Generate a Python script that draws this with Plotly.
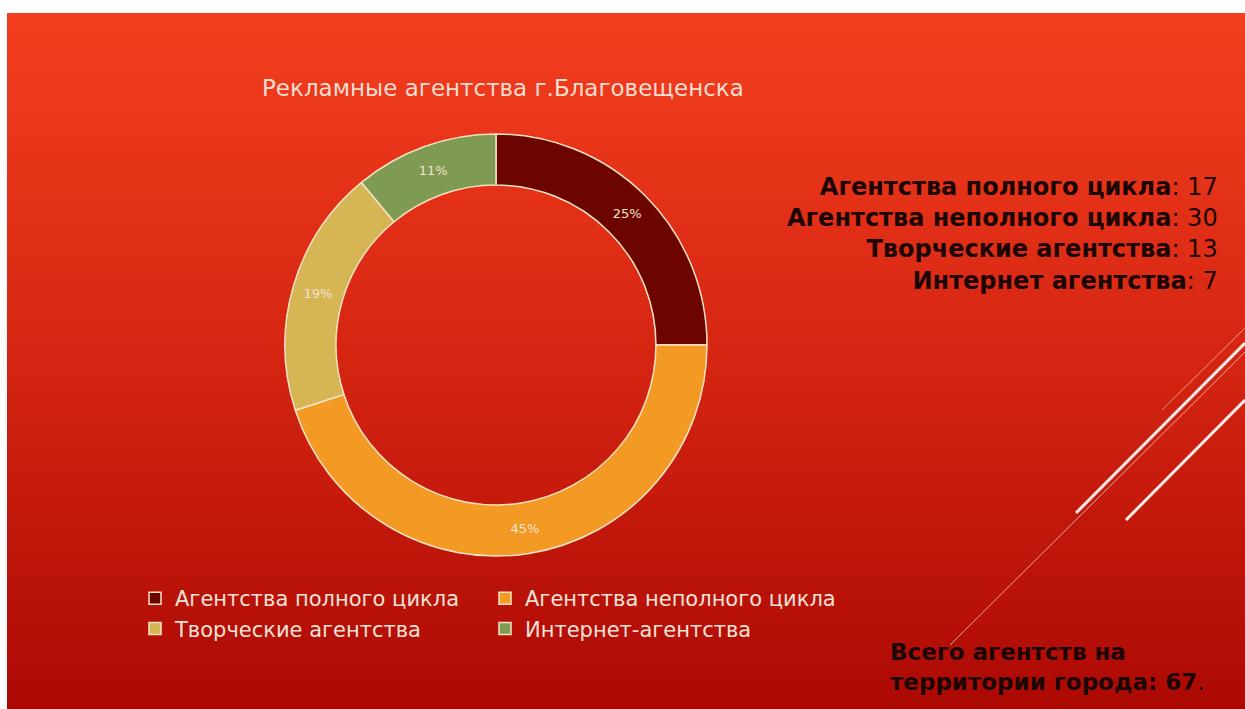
import plotly.graph_objects as go

# Рекламные агентства г. Благовещенска
categories = ["Агентства полного цикла", "Агентства неполного цикла",
              "Творческие агентства", "Интернет-агентства"]
share_pct = [25, 45, 19, 11]          # доли на диаграмме, %
summary_labels = ["Агентства полного цикла", "Агентства неполного цикла",
                  "Творческие агентства", "Интернет агентства"]
summary_counts = [17, 30, 13, 7]
total_count = 67

slice_colors = ["#6c0500", "#f29a24", "#d6b654", "#7f9a52"]

W, H = 1245, 709
PLOT_W = 845          # plot area width (right margin holds the text block)


def px(x):
    return x / PLOT_W


def py(y):
    return 1 - y / H


fig = go.Figure()

fig.add_trace(go.Pie(
    labels=categories,
    values=share_pct,
    hole=0.758,
    sort=False,
    direction="clockwise",
    rotation=0,
    marker=dict(colors=slice_colors, line=dict(color="#f4e4c4", width=1.5)),
    texttemplate="%{value}%",
    textposition="inside",
    insidetextorientation="horizontal",
    textfont=dict(family="DejaVu Sans", size=13, color="#f3e2d2"),
    domain=dict(x=[px(285), px(707)], y=[py(556), py(134)]),
    hoverinfo="label+value",
))

# background gradient of the slide (horizontal bands)
stops = [(13, (244, 63, 30)), (360, (213, 37, 18)), (709, (172, 9, 4))]


def band_color(y):
    for (y0, c0), (y1, c1) in zip(stops[:-1], stops[1:]):
        if y0 <= y <= y1:
            t = (y - y0) / (y1 - y0)
            return "rgb(%d,%d,%d)" % tuple(round(a + (b - a) * t) for a, b in zip(c0, c1))
    return "rgb(%d,%d,%d)" % stops[-1][1]


shapes = []
step = 6
y = 13
while y < H:
    y_next = min(y + step + 1, H)
    shapes.append(dict(type="rect", xref="paper", yref="paper", layer="below",
                       x0=px(7), x1=px(W), y0=py(y_next), y1=py(y),
                       fillcolor=band_color(y + step / 2), line=dict(width=0)))
    y += step

# decorative diagonal strokes at the right edge
strokes = [
    ((1076, 513), (1245, 343), "rgba(255,245,240,0.95)", 3),
    ((1126, 520), (1245, 400), "rgba(255,245,240,0.95)", 3),
    ((950, 645), (1245, 352), "rgba(255,200,190,0.8)", 1),
    ((1162, 410), (1245, 328), "rgba(255,190,170,0.75)", 1),
]
for (x0, y0), (x1, y1), col, w in strokes:
    shapes.append(dict(type="line", xref="paper", yref="paper", layer="above",
                       x0=px(x0), y0=py(y0), x1=px(x1), y1=py(y1),
                       line=dict(color=col, width=w)))

annotations = [
    dict(text="Рекламные агентства г.Благовещенска", x=px(503), y=py(88),
         xref="paper", yref="paper", showarrow=False, xanchor="center", yanchor="middle",
         font=dict(family="DejaVu Sans", size=23, color="#f6ddd0")),
]

summary_lines = [
    "<b>%s</b>: %d" % (lab, n) for lab, n in zip(summary_labels, summary_counts)
]
annotations.append(dict(
    text="<br>".join(summary_lines), x=px(1220), y=py(171),
    xref="paper", yref="paper", showarrow=False, xanchor="right", yanchor="top",
    align="right", font=dict(family="DejaVu Sans", size=24, color="#1c0604"),
))
annotations.append(dict(
    text="<b>Всего агентств на<br>территории города: %d</b>." % total_count,
    x=px(888), y=py(637), xref="paper", yref="paper", showarrow=False,
    xanchor="left", yanchor="top", align="left",
    font=dict(family="DejaVu Sans", size=23, color="#1c0604"),
))

fig.update_layout(
    width=W, height=H,
    margin=dict(l=0, r=W - PLOT_W, t=0, b=0, autoexpand=False),
    paper_bgcolor="white",
    plot_bgcolor="rgba(0,0,0,0)",
    shapes=shapes,
    annotations=annotations,
    showlegend=True,
    legend=dict(
        orientation="h", x=px(135), y=py(578), xanchor="left", yanchor="top",
        bgcolor="rgba(0,0,0,0)", entrywidth=305, entrywidthmode="pixels",
        font=dict(family="DejaVu Sans", size=21, color="#f2e2d8"),
        traceorder="normal",
    ),
)

fig.write_html("out.html")
